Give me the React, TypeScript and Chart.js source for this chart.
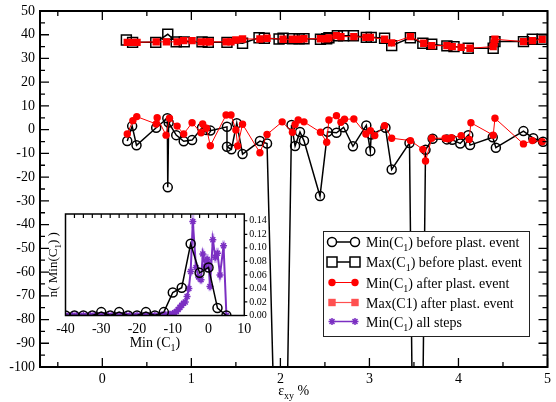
import React, { useEffect, useRef } from 'react';
import { Chart, registerables } from 'chart.js';

Chart.register(...registerables);

const FONT = "'Liberation Serif', 'Times New Roman', serif";
const RED = '#ff0000';
const PURPLE = '#7b2fc2';
const PURPLE_ERR = 'rgba(170,120,230,0.55)';

// ---------- main chart axes ----------
const xTicks = [0, 1, 2, 3, 4, 5];
const xMinor = [-0.5, 0.5, 1.5, 2.5, 3.5, 4.5];
const yTicks = [-100, -90, -80, -70, -60, -50, -40, -30, -20, -10, 0, 10, 20, 30, 40, 50];
const yMinor = [-95, -85, -75, -65, -55, -45, -35, -25, -15, -5, 5, 15, 25, 35, 45];

// ---------- main chart data ----------
const minBeforeX = [0.28, 0.335, 0.384, 0.605, 0.73, 0.735, 0.745, 0.83, 0.914,
  1.008, 1.12, 1.165, 1.213, 1.40, 1.40, 1.45, 1.51, 1.575, 1.77, 1.85,
  2.02, 2.125, 2.165, 2.22, 2.265, 2.445, 2.53, 2.63, 2.71, 2.815, 2.965,
  3.01, 3.02, 3.18, 3.25, 3.45, 3.54, 3.63, 3.71, 3.87, 3.93,
  4.02, 4.11, 4.13, 4.385, 4.42, 4.73, 4.84, 4.95];
const minBeforeY = [-4.8, 1.5, -6.6, 0.8, 4.8, -24.3, 3.0, -2.3, -4.9,
  -4.4, 0.8, -0.1, -0.4, 1.2, -7.2, -8.3, 2.7, -10.3, -4.8, -5.8,
  -250, 2.0, -6.9, -1.0, -4.7, -28.0, -0.9, -1.3, 1.0, -7.0, 1.8,
  -9.0, -2.0, 0.8, -16.8, -5.6, -320, -8.5, -3.8, -4.1, -4.3,
  -5.8, -2.3, -6.5, -3.2, -7.6, -0.6, -3.6, -5.1];

const maxBeforeX = [0.27, 0.34, 0.6, 0.735, 0.83, 0.92,
  1.12, 1.19, 1.40, 1.575, 1.76, 1.82, 1.985,
  2.03, 2.135, 2.21, 2.265, 2.45, 2.52, 2.545, 2.64, 2.71, 2.82, 2.965,
  3.02, 3.17, 3.25, 3.46, 3.60, 3.70, 3.87, 3.95,
  4.11, 4.39, 4.41, 4.73, 4.83, 4.94];
const maxBeforeY = [37.8, 36.8, 36.8, 40.2, 37.0, 37.0,
  37.0, 36.8, 36.8, 36.4, 38.7, 38.5, 38.2,
  38.5, 38.3, 38.3, 38.3, 38.1, 38.3, 38.7, 39.6, 39.6, 39.6, 38.9,
  38.9, 38.5, 35.4, 38.7, 36.4, 36.0, 35.3, 35.0,
  34.3, 34.3, 37.1, 37.1, 38.1, 38.1];

const minAfterX = [0.28, 0.343, 0.387, 0.605, 0.616, 0.716, 0.754, 0.84, 0.914,
  1.008, 1.109, 1.127, 1.17, 1.213, 1.39, 1.445, 1.50, 1.52, 1.575, 1.77, 1.85,
  2.02, 2.135, 2.165, 2.20, 2.265, 2.45, 2.52, 2.545, 2.63, 2.68, 2.72, 2.825, 2.96,
  3.01, 3.06, 3.17, 3.25, 3.46, 3.60, 3.63, 3.70, 3.85, 3.88, 3.92,
  4.03, 4.12, 4.14, 4.39, 4.41, 4.73, 4.83, 4.94];
const minAfterY = [-1.8, 3.8, 5.5, 2.4, 5.0, -2.3, 4.8, 1.5, -1.8,
  2.9, -1.3, 2.4, 0.6, -6.8, 6.2, 6.2, -0.1, -6.9, 2.3, -9.7, -2.0,
  3.3, -1.1, 2.2, 4.1, 3.3, -1.1, -5.3, 4.1, 5.9, 3.1, 4.4, 4.5, -1.8,
  -0.4, -2.5, 1.7, -3.6, -4.6, -8.3, -13.2, -3.6, -3.6, -3.8, -3.4,
  -2.5, -4.1, 2.9, -2.3, 4.8, -6.0, -4.6, -5.1];

const maxAfterX = [0.28, 0.34, 0.39, 0.605, 0.72, 0.84, 0.914,
  1.008, 1.11, 1.17, 1.21, 1.39, 1.445, 1.50, 1.575, 1.77, 1.85,
  2.03, 2.135, 2.21, 2.265, 2.45, 2.52, 2.545, 2.63, 2.68, 2.825, 2.96,
  3.01, 3.17, 3.25, 3.46, 3.61, 3.70, 3.87, 3.93,
  4.03, 4.13, 4.39, 4.40, 4.41, 4.73, 4.83, 4.94];
const maxAfterY = [36.8, 36.8, 36.8, 37.0, 37.0, 37.0, 37.5,
  37.5, 37.0, 37.0, 37.0, 37.0, 37.0, 37.8, 38.2, 38.2, 38.5,
  38.1, 38.1, 38.1, 38.3, 38.3, 38.3, 38.7, 39.6, 39.2, 39.2, 38.9,
  38.9, 38.1, 36.6, 39.2, 36.4, 35.4, 35.4, 35.0,
  34.7, 34.3, 35.0, 36.4, 38.1, 37.1, 37.5, 38.1];

// ---------- inset data ----------
const insetXTicks = [-40, -30, -20, -10, 0, 10];
const insetYTicks = [0, 0.02, 0.04, 0.06, 0.08, 0.10, 0.12, 0.14];

const histBeforeX = [-40, -37.5, -35, -32.5, -30, -27.5, -25, -22.5, -20, -17.5, -15, -12.5, -10, -7.5, -5, -2.5, 0, 2.5, 5];
const histBeforeY = [0, 0, 0, 0, 0.005, 0, 0.005, 0, 0, 0.005, 0, 0.005, 0.034, 0.041, 0.106, 0.063, 0.071, 0.011, 0];

const histAllX = [-40, -39, -38, -37, -36, -35, -34, -33, -32, -31, -30, -29, -28, -27, -26, -25, -24, -23, -22, -21,
  -20, -19, -18, -17, -16, -15, -14, -13, -12, -11,
  -10, -9.5, -9, -8.5, -8, -7.5, -7, -6.5, -6, -5.5, -5, -4.4, -3.5, -2.8, -2.1, -1.6, -0.9, -0.4, 0, 0.4,
  1.2, 1.9, 2.5, 3.2, 4.2, 5];
const histAllY = [0, 0, 0, 0, 0, 0, 0, 0, 0, 0, 0, 0, 0, 0, 0, 0, 0, 0, 0, 0,
  0, 0, 0, 0, 0, 0, 0, 0.001, 0.001, 0.002,
  0.003, 0.004, 0.006, 0.009, 0.012, 0.015, 0.018, 0.02, 0.028, 0.04, 0.065, 0.139, 0.071, 0.057, 0.053, 0.091, 0.072, 0.083, 0.078, 0.043,
  0.112, 0.086, 0.092, 0.06, 0.103, 0];
const histAllErr = [0, 0, 0, 0, 0, 0, 0, 0, 0, 0, 0, 0, 0, 0, 0, 0, 0, 0, 0, 0,
  0, 0, 0, 0, 0, 0, 0, 0.001, 0.001, 0.001,
  0.002, 0.002, 0.003, 0.003, 0.004, 0.004, 0.004, 0.005, 0.005, 0.006, 0.007, 0.01, 0.008, 0.007, 0.007, 0.008, 0.008, 0.008, 0.008, 0.007,
  0.009, 0.008, 0.008, 0.007, 0.008, 0];

// ---------- texts ----------
type Part = [string, boolean];
const legendTexts: Part[][] = [
  [['Min(C', false], ['1', true], [') before plast. event', false]],
  [['Max(C', false], ['1', true], [') before plast. event', false]],
  [['Min(C', false], ['1', true], [') after plast. event', false]],
  [['Max(C1) after plast. event', false]],
  [['Min(C', false], ['1', true], [') all steps', false]],
];
const xTitle: Part[] = [['ε', false], ['xy', true], [' %', false]];
const insetXTitle: Part[] = [['Min (C', false], ['1', true], [')', false]];
const insetYTitle: Part[] = [['n( Min(C', false], ['1', true], [') )', false]];

const pts = (xs: number[], ys: number[]) => xs.map((x, i) => ({ x, y: ys[i] }));

function drawRich(ctx: CanvasRenderingContext2D, parts: Part[], x: number, y: number, size: number, align: 'left' | 'center') {
  const sub = Math.round(size * 0.72);
  const widths = parts.map(([t, s]) => {
    ctx.font = `${s ? sub : size}px ${FONT}`;
    return ctx.measureText(t).width;
  });
  const total = widths.reduce((a, b) => a + b, 0);
  let cx = align === 'center' ? x - total / 2 : x;
  ctx.textAlign = 'left';
  ctx.textBaseline = 'alphabetic';
  parts.forEach(([t, s], i) => {
    ctx.font = `${s ? sub : size}px ${FONT}`;
    ctx.fillText(t, cx, s ? y + size * 0.3 : y);
    cx += widths[i];
  });
}

function drawMarker(ctx: CanvasRenderingContext2D, style: string, x: number, y: number, color: string) {
  ctx.save();
  ctx.strokeStyle = color;
  ctx.fillStyle = color;
  ctx.lineWidth = 1.5;
  ctx.beginPath();
  if (style === 'circleOpen') {
    ctx.arc(x, y, 4.5, 0, Math.PI * 2);
    ctx.fillStyle = '#fff';
    ctx.fill();
    ctx.stroke();
  } else if (style === 'rectOpen') {
    ctx.rect(x - 5, y - 5, 10, 10);
    ctx.fillStyle = '#fff';
    ctx.fill();
    ctx.stroke();
  } else if (style === 'circle') {
    ctx.arc(x, y, 3.7, 0, Math.PI * 2);
    ctx.fill();
  } else if (style === 'rect') {
    ctx.rect(x - 3.7, y - 3.7, 7.4, 7.4);
    ctx.fill();
  } else {
    const r = 3.5;
    for (let k = 0; k < 4; k++) {
      const a = (k * Math.PI) / 4;
      ctx.moveTo(x - r * Math.cos(a), y - r * Math.sin(a));
      ctx.lineTo(x + r * Math.cos(a), y + r * Math.sin(a));
    }
    ctx.stroke();
  }
  ctx.restore();
}

const legendStyles = [
  { style: 'circleOpen', color: '#000', lw: 1.5 },
  { style: 'rectOpen', color: '#000', lw: 1.5 },
  { style: 'circle', color: RED, lw: 1 },
  { style: 'rect', color: '#ff5050', lw: 1.2 },
  { style: 'star', color: PURPLE, lw: 1.5 },
];

const noPadX = (h: number) => (s: any) => { s.height = h; s.paddingLeft = 0; s.paddingRight = 0; };
const noPadY = (w: number) => (s: any) => { s.width = w; s.paddingTop = 0; s.paddingBottom = 0; };

const mainDecor = {
  id: 'mainDecor',
  afterDatasetsDraw(chart: any) {
    const { ctx, chartArea: a, scales } = chart;
    const xs = scales.x, ys = scales.y;
    ctx.save();
    ctx.strokeStyle = '#000';
    ctx.lineWidth = 1.3;
    ctx.beginPath();
    const tick = (v: number, len: number) => {
      const px = xs.getPixelForValue(v);
      ctx.moveTo(px, a.bottom); ctx.lineTo(px, a.bottom - len);
      ctx.moveTo(px, a.top); ctx.lineTo(px, a.top + len);
    };
    xTicks.forEach((v) => tick(v, 9));
    xMinor.forEach((v) => tick(v, 5));
    const ytick = (v: number, len: number) => {
      const py = ys.getPixelForValue(v);
      ctx.moveTo(a.left, py); ctx.lineTo(a.left + len, py);
      ctx.moveTo(a.right, py); ctx.lineTo(a.right - len, py);
    };
    yTicks.forEach((v) => ytick(v, 9));
    yMinor.forEach((v) => ytick(v, 5));
    ctx.stroke();
    ctx.lineWidth = 2;
    ctx.strokeRect(a.left, a.top, a.right - a.left, a.bottom - a.top);
    ctx.restore();
  },
  afterDraw(chart: any) {
    const { ctx, chartArea: a } = chart;
    ctx.save();
    ctx.fillStyle = '#000';
    drawRich(ctx, xTitle, (a.left + a.right) / 2, 395, 14, 'center');
    const bx = 323, by = 231, bw = 206, bh = 105;
    ctx.fillStyle = '#fff';
    ctx.fillRect(bx, by, bw, bh);
    ctx.strokeStyle = '#222';
    ctx.lineWidth = 1;
    ctx.strokeRect(bx + 0.5, by + 0.5, bw, bh);
    const rows = [242, 262, 282.5, 302.5, 321.5];
    legendStyles.forEach((s, i) => {
      const y = rows[i];
      ctx.strokeStyle = s.color;
      ctx.lineWidth = s.lw;
      ctx.beginPath();
      ctx.moveTo(332, y); ctx.lineTo(355, y);
      ctx.stroke();
      drawMarker(ctx, s.style, 332, y, s.color);
      drawMarker(ctx, s.style, 355, y, s.color);
      ctx.fillStyle = '#000';
      drawRich(ctx, legendTexts[i], 366, y + 5, 14, 'left');
    });
    ctx.restore();
  },
};

const insetDecor = {
  id: 'insetDecor',
  beforeDatasetsDraw(chart: any) {
    const { ctx, scales } = chart;
    ctx.save();
    ctx.strokeStyle = PURPLE_ERR;
    ctx.lineWidth = 3;
    ctx.beginPath();
    histAllX.forEach((x, i) => {
      const e = histAllErr[i];
      if (!e) return;
      const px = scales.x.getPixelForValue(x);
      ctx.moveTo(px, scales.y.getPixelForValue(histAllY[i] - e));
      ctx.lineTo(px, scales.y.getPixelForValue(histAllY[i] + e));
    });
    ctx.stroke();
    ctx.restore();
  },
  afterDatasetsDraw(chart: any) {
    const { ctx, chartArea: a, scales } = chart;
    ctx.save();
    ctx.strokeStyle = '#000';
    ctx.lineWidth = 1.2;
    ctx.beginPath();
    for (let v = -37.5; v < 10; v += 2.5) {
      const px = scales.x.getPixelForValue(v);
      ctx.moveTo(px, a.top); ctx.lineTo(px, a.top + 4);
    }
    insetYTicks.forEach((v) => {
      const py = scales.y.getPixelForValue(v);
      ctx.moveTo(a.right, py); ctx.lineTo(a.right + 3, py);
    });
    ctx.stroke();
    ctx.lineWidth = 1.5;
    ctx.strokeRect(a.left, a.top, a.right - a.left, a.bottom - a.top);
    ctx.fillStyle = '#000';
    drawRich(ctx, insetXTitle, (a.left + a.right) / 2, 142, 14, 'center');
    ctx.translate(13, (a.top + a.bottom) / 2);
    ctx.rotate(-Math.PI / 2);
    drawRich(ctx, insetYTitle, 0, 0, 13, 'center');
    ctx.restore();
  },
};

export default function App() {
  const mainRef = useRef<HTMLCanvasElement>(null);
  const insetRef = useRef<HTMLCanvasElement>(null);

  useEffect(() => {
    const tickFont = { family: FONT, size: 14 };
    const main = new Chart(mainRef.current as HTMLCanvasElement, {
      type: 'line',
      data: {
        datasets: [
          {
            data: pts(minAfterX, minAfterY), order: 0,
            borderColor: RED, borderWidth: 1, pointStyle: 'circle', pointRadius: 3.7,
            pointBackgroundColor: RED, pointBorderColor: RED, pointBorderWidth: 0,
          },
          {
            data: pts(maxAfterX, maxAfterY), order: 0,
            borderColor: RED, borderWidth: 1, pointStyle: 'rect', pointRadius: 5.2,
            pointBackgroundColor: RED, pointBorderColor: RED, pointBorderWidth: 0,
          },
          {
            data: pts(minBeforeX, minBeforeY), order: 1, clip: 0,
            borderColor: '#000', borderWidth: 1.5, pointStyle: 'circle', pointRadius: 4.5,
            pointBackgroundColor: 'rgba(0,0,0,0)', pointBorderColor: '#000', pointBorderWidth: 1.5,
          },
          {
            data: pts(maxBeforeX, maxBeforeY), order: 1,
            borderColor: '#000', borderWidth: 1.5, pointStyle: 'rect', pointRadius: 7,
            pointBackgroundColor: 'rgba(0,0,0,0)', pointBorderColor: '#000', pointBorderWidth: 1.5,
          },
        ] as any,
      },
      options: {
        animation: false,
        responsive: false,
        events: [],
        layout: { padding: { left: 0, top: 11, right: 8, bottom: 0 } },
        plugins: { legend: { display: false }, tooltip: { enabled: false } },
        elements: { line: { tension: 0 } },
        scales: {
          x: {
            type: 'linear', min: -0.7, max: 5,
            afterBuildTicks: (s: any) => { s.ticks = xTicks.map((v) => ({ value: v })); },
            afterFit: noPadX(35),
            ticks: { font: tickFont, color: '#000', padding: 4, maxRotation: 0, autoSkip: false },
            grid: { display: false, drawTicks: false },
            border: { display: false },
          },
          y: {
            type: 'linear', min: -100, max: 50,
            afterBuildTicks: (s: any) => { s.ticks = yTicks.map((v) => ({ value: v })); },
            afterFit: noPadY(40),
            ticks: { font: tickFont, color: '#000', padding: 5, autoSkip: false },
            grid: { display: false, drawTicks: false },
            border: { display: false },
          },
        },
      } as any,
      plugins: [mainDecor],
    });

    const inset = new Chart(insetRef.current as HTMLCanvasElement, {
      type: 'line',
      data: {
        datasets: [
          {
            data: pts(histBeforeX, histBeforeY), order: 0,
            borderColor: '#000', borderWidth: 1.5, pointStyle: 'circle', pointRadius: 4.5,
            pointBackgroundColor: 'rgba(0,0,0,0)', pointBorderColor: '#000', pointBorderWidth: 1.5,
          },
          {
            data: pts(histAllX, histAllY), order: 1,
            borderColor: PURPLE, borderWidth: 2, pointStyle: 'star', pointRadius: 3.5,
            pointBackgroundColor: PURPLE, pointBorderColor: PURPLE, pointBorderWidth: 1.5,
          },
        ] as any,
      },
      options: {
        animation: false,
        responsive: false,
        events: [],
        layout: { padding: { left: 21.5, top: 9, right: 0, bottom: 0 } },
        plugins: { legend: { display: false }, tooltip: { enabled: false } },
        elements: { line: { tension: 0 } },
        scales: {
          x: {
            type: 'linear', min: -40, max: 10,
            afterBuildTicks: (s: any) => { s.ticks = insetXTicks.map((v) => ({ value: v })); },
            afterFit: noPadX(44.5),
            ticks: { font: tickFont, color: '#000', padding: 5, maxRotation: 0, autoSkip: false },
            grid: { display: false, drawTicks: false },
            border: { display: false },
          },
          y: {
            type: 'linear', position: 'right', min: 0, max: 0.15,
            afterBuildTicks: (s: any) => { s.ticks = insetYTicks.map((v) => ({ value: v })); },
            afterFit: noPadY(39.7),
            ticks: {
              font: { family: FONT, size: 10 }, color: '#000', padding: 5, autoSkip: false,
              callback: (v: any) => Number(v).toFixed(2),
            },
            grid: { display: false, drawTicks: false },
            border: { display: false },
          },
        },
      } as any,
      plugins: [insetDecor],
    });

    return () => {
      main.destroy();
      inset.destroy();
    };
  }, []);

  return (
    <div style={{ position: 'fixed', left: 0, top: 0, width: 556, height: 402, background: '#fff' }}>
      <canvas ref={mainRef} width={556} height={402} style={{ position: 'absolute', left: 0, top: 0, width: 556, height: 402 }} />
      <canvas ref={insetRef} width={240} height={155} style={{ position: 'absolute', left: 44, top: 205, width: 240, height: 155 }} />
    </div>
  );
}
